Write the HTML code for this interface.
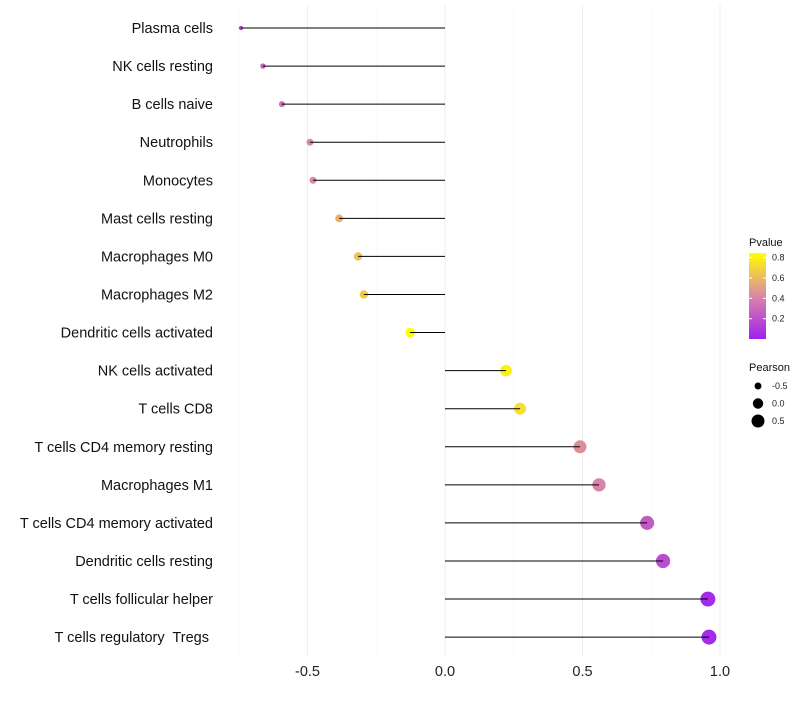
<!DOCTYPE html>
<html><head><meta charset="utf-8"><style>
body{margin:0;background:#fff;font-family:"Liberation Sans",sans-serif}
svg text{font-family:"Liberation Sans",sans-serif;white-space:pre}
</style></head><body>
<svg id="chart" width="800" height="700"></svg>
<script>
const categories=["Plasma cells","NK cells resting","B cells naive","Neutrophils","Monocytes","Mast cells resting","Macrophages M0","Macrophages M2","Dendritic cells activated","NK cells activated","T cells CD8","T cells CD4 memory resting","Macrophages M1","T cells CD4 memory activated","Dendritic cells resting","T cells follicular helper","T cells regulatory  Tregs "];
const pearson=[-0.742,-0.662,-0.593,-0.491,-0.48,-0.385,-0.316,-0.295,-0.127,0.222,0.273,0.491,0.56,0.735,0.793,0.956,0.96];
const pvalue=[0.15,0.26,0.32,0.42,0.44,0.58,0.63,0.67,0.85,0.8,0.74,0.45,0.4,0.24,0.18,0.04,0.04];
const xTicks=[-0.5,0,0.5,1.0];
const xTickLabels=["-0.5","0.0","0.5","1.0"];
const pTicks=[0.2,0.4,0.6,0.8];
const sizeLegend=[-0.5,0,0.5];

const NS="http://www.w3.org/2000/svg";
const svg=document.getElementById('chart');
function el(t,a,p){const e=document.createElementNS(NS,t);for(const k in a)e.setAttribute(k,a[k]);(p||svg).appendChild(e);return e;}
const x=v=>445+v*275;
const y=i=>28+i*38.07;
const r=v=>Math.sqrt(4.5+(v+0.75)*30);
function lerp(a,b,t){return a.map((c,i)=>Math.round(c+(b[i]-c)*t));}
function col(p){const t=Math.max(0,Math.min(1,p/0.85));const A=[160,32,240],M=[220,135,165],B=[255,255,0];
 const c=t<0.5?lerp(A,M,t/0.5):lerp(M,B,(t-0.5)/0.5);return `rgb(${c})`;}
[-0.75,-0.25,0.25,0.75].forEach(v=>{const g=el('line',{x1:x(v),x2:x(v),y1:5,y2:657,stroke:'#f5f5f5','stroke-width':0.6});
});
xTicks.forEach((v,i)=>{const g=el('line',{x1:x(v),x2:x(v),y1:5,y2:657,stroke:'#eeeeee','stroke-width':1});

const t=el('text',{x:x(v),y:676,'text-anchor':'middle','font-size':14.5,fill:'#222'});t.textContent=xTickLabels[i];
});
categories.forEach((c,i)=>{
 const t=el('text',{x:213,y:y(i)+5,'text-anchor':'end','font-size':14.5,fill:'#111'});t.textContent=c;
 
 const pt=el('circle',{cx:x(pearson[i]),cy:y(i),r:r(pearson[i]),fill:col(pvalue[i])});
 
 const l=el('line',{x1:x(0),x2:x(pearson[i]),y1:y(i),y2:y(i),stroke:'#000','stroke-width':1});
 
});
const defs=el('defs',{});const gr=el('linearGradient',{id:'pg',x1:0,y1:1,x2:0,y2:0},defs);
for(let k=0;k<=10;k++){el('stop',{offset:k/10,'stop-color':col(k/10*0.85)},gr);}
let t=el('text',{x:749,y:246,'font-size':11,fill:'#111'});t.textContent='Pvalue';

const bar=el('rect',{x:749,y:253,width:17,height:86,fill:'url(#pg)'});

const py=p=>339-p*101.7;
pTicks.forEach(p=>{el('line',{x1:749,x2:752,y1:py(p),y2:py(p),stroke:'#fff'});el('line',{x1:763,x2:766,y1:py(p),y2:py(p),stroke:'#fff'});
 const tt=el('text',{x:772,y:py(p)+3,'font-size':9,fill:'#222'});tt.textContent=p.toFixed(1);
 });
t=el('text',{x:749,y:371,'font-size':11,fill:'#111'});t.textContent='Pearson';

sizeLegend.forEach((v,i)=>{const cy=386+i*17.5;const c=el('circle',{cx:758,cy:cy,r:r(v),fill:'#000'});
 
 const tt=el('text',{x:772,y:cy+3,'font-size':9,fill:'#222'});tt.textContent=v.toFixed(1);
 });
</script></body></html>
